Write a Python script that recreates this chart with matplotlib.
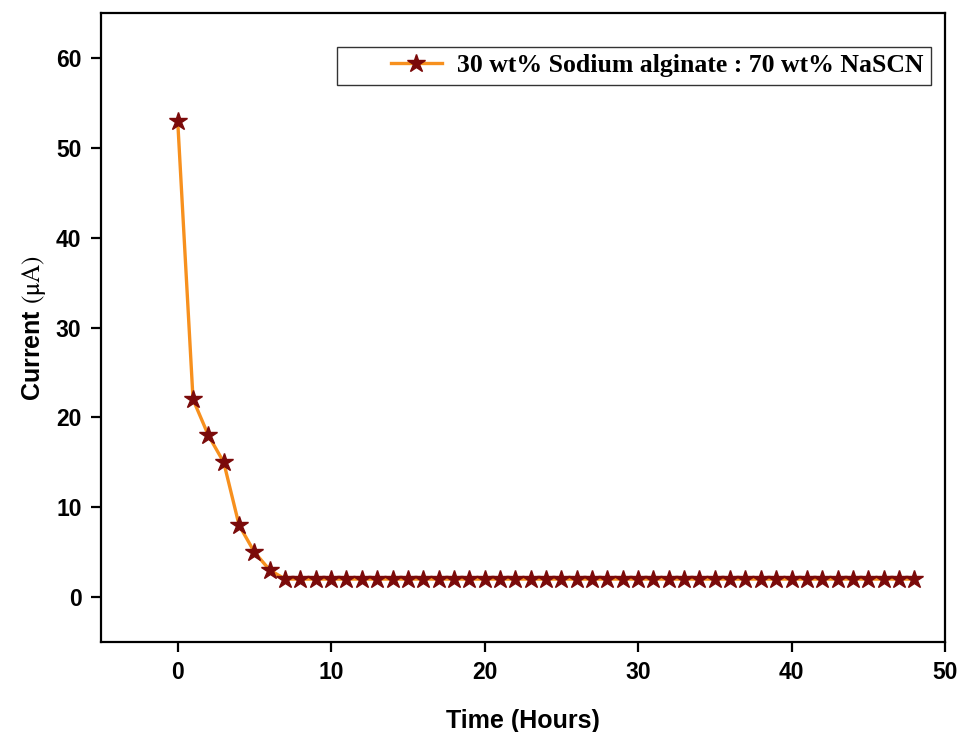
import matplotlib
matplotlib.use("Agg")
import matplotlib.pyplot as plt
from matplotlib.legend_handler import HandlerLine2D

# current decay of the polymer electrolyte over time
hours = list(range(0, 49))
current = [53, 22, 18, 15, 8, 5, 3] + [2] * 42

legendLabel = "30 wt% Sodium alginate : 70 wt% NaSCN"
xTicks = [0, 10, 20, 30, 40, 50]
yTicks = [0, 10, 20, 30, 40, 50, 60]

plt.rcParams['font.family'] = ['Liberation Sans', 'DejaVu Sans']
plt.rcParams['mathtext.fontset'] = 'stix'

fig = plt.figure(figsize=(9.58, 7.32), dpi=100)
ax = fig.add_axes([0.1054, 0.123, 0.881, 0.859])

line, = ax.plot(hours, current, color='#F7901E', linewidth=2.4,
                marker='*', markersize=13.5, markerfacecolor='#7B0A0A',
                markeredgecolor='#7B0A0A', label=legendLabel)

ax.set_xlim(-5, 50)
ax.set_ylim(-5, 65)
ax.set_xticks(xTicks)
ax.set_yticks(yTicks)

for side in ['left', 'right', 'top', 'bottom']:
    ax.spines[side].set_linewidth(1.6)

ax.tick_params(axis='both', direction='out', length=7, width=1.6,
               labelsize=16.5, pad=7)
for lab in ax.get_xticklabels() + ax.get_yticklabels():
    lab.set_fontweight('bold')

ax.set_xlabel("Time (Hours)", fontsize=18, fontweight='bold', labelpad=18)
ax.set_ylabel(r"Current $\mathrm{(μA)}$", fontsize=18, fontweight='bold', labelpad=6)

# legend handle pushed right, leaving blank space at the left of the box
leg = ax.legend(loc='upper right', bbox_to_anchor=(0.9835, 0.946),
                prop={'family': 'Liberation Serif', 'weight': 'bold', 'size': 18.5},
                frameon=True, fancybox=False, edgecolor='black',
                handlelength=3.8, handletextpad=0.6, borderpad=0.28,
                borderaxespad=0,
                handler_map={line: HandlerLine2D(xpad=1.8)})
leg.get_frame().set_linewidth(1.0)

fig.savefig("out.png", dpi=100)
